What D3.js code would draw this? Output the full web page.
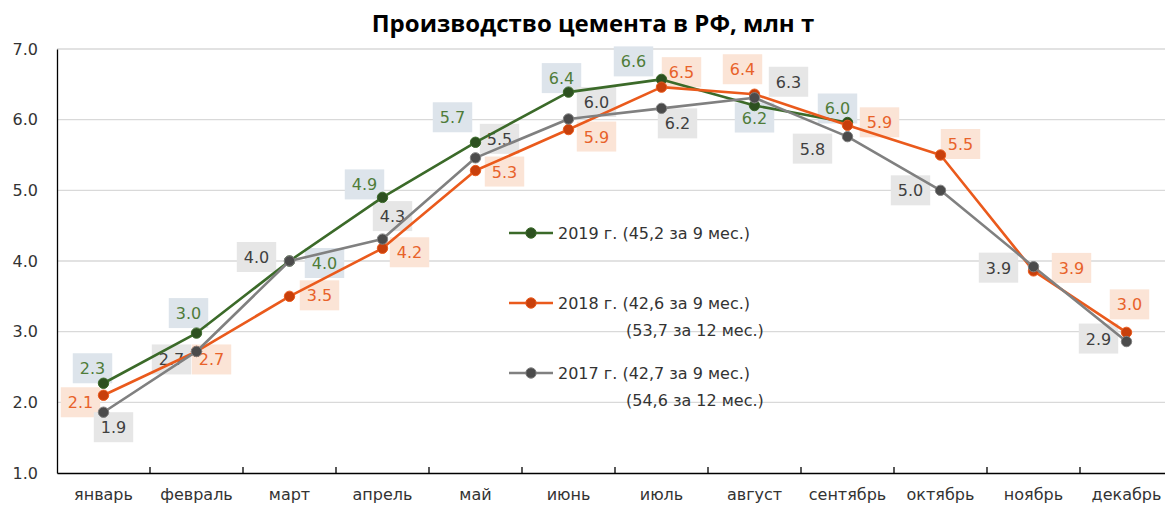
<!DOCTYPE html>
<html><head><meta charset="utf-8">
<script src="https://cdn.jsdelivr.net/npm/d3@7"></script>
<style>body{margin:0;background:#fff}svg{display:block}</style>
</head><body>
<svg id="c" width="1165" height="506"></svg>
<script>
const months = ["январь","февраль","март","апрель","май","июнь","июль","август","сентябрь","октябрь","ноябрь","декабрь"];
const v2019 = [2.27, 2.98, 4.0, 4.9, 5.68, 6.39, 6.57, 6.2, 5.96, null, null, null];
const v2018 = [2.1, 2.72, 3.5, 4.18, 5.28, 5.86, 6.46, 6.36, 5.92, 5.5, 3.86, 2.99];
const v2017 = [1.86, 2.72, 4.0, 4.31, 5.46, 6.01, 6.16, 6.31, 5.76, 5.0, 3.92, 2.86];
const yTicks = [1, 2, 3, 4, 5, 6, 7];
const title = "Производство цемента в РФ, млн т";
const legend2019 = ["2019 г. (45,2 за 9 мес.)"];
const legend2018 = ["2018 г. (42,6 за 9 мес.)", "(53,7 за 12 мес.)"];
const legend2017 = ["2017 г. (42,7 за 9 мес.)", "(54,6 за 12 мес.)"];

// label placement offsets (px) relative to each point
const off2019 = [[-11,-15],[-8,-20],[35,2],[-18,-13],[-23,-25],[-7,-14],[-28,-18],[0,12],[-10,-14]];
const off2018 = [[-23,7],[15,8],[30,-1],[27,4],[29,1],[28,7],[20,-15],[-12,-25],[32,-3],[20,-11],[38,-3],[3,-28]];
const off2017 = [[10,15],[-25,8],[-33,-4],[10,-23],[24,-19],[28,-17],[16,15],[34,-16],[-35,12],[-30,0],[-35,1],[-28,-3]];

const series = [
  {vals: v2019, off: off2019, legend: legend2019, ly: 233, line: "#3b6a29", dot: "#2d5120", txt: "#4f7c39", box: "#dde4eb"},
  {vals: v2018, off: off2018, legend: legend2018, ly: 303, line: "#ea5a1c", dot: "#c8400c", txt: "#e8622a", box: "#fbe4d6"},
  {vals: v2017, off: off2017, legend: legend2017, ly: 373, line: "#808080", dot: "#4b4b4b", txt: "#3f3f3f", box: "#e6e6e6"}
];

const svg = d3.select("#c");
const x = d3.scaleBand().domain(months).range([57, 1173]).padding(0);
const y = d3.scaleLinear().domain([1, 7]).range([473, 49]);
const fmt = d3.format(".1f");
const font = "'DejaVu Sans', Verdana, sans-serif";

// title
svg.append("text").attr("x", 593).attr("y", 32).attr("text-anchor", "middle")
  .attr("font-family", "'Open Sans', sans-serif").attr("font-weight", "bold").attr("font-size", 24)
  .attr("fill", "#000").text(title);

// gridlines
svg.append("g").selectAll("line").data(yTicks.slice(1)).join("line")
  .attr("x1", 57).attr("x2", 1165).attr("y1", d => y(d)).attr("y2", d => y(d))
  .attr("stroke", "#d9d9d9").attr("stroke-width", 1.3);

// y axis
const ya = svg.append("g").attr("transform", "translate(57,0)")
  .call(d3.axisLeft(y).tickValues(yTicks).tickFormat(fmt).tickSize(0).tickPadding(19));
ya.select(".domain").attr("stroke", "#000").attr("stroke-width", 1.3);
ya.selectAll("text").attr("font-family", font).attr("font-size", 16).attr("fill", "#333");

// x axis
const xa = svg.append("g").attr("transform", "translate(0,473)")
  .call(d3.axisBottom(x).tickSize(0).tickPadding(16));
xa.select(".domain").attr("stroke", "#000").attr("stroke-width", 1.3);
xa.selectAll("text").attr("font-family", font).attr("font-size", 16).attr("fill", "#333");
svg.append("g").selectAll("line").data(months.slice(1)).join("line")
  .attr("x1", d => x(d)).attr("x2", d => x(d)).attr("y1", 473).attr("y2", 467)
  .attr("stroke", "#000").attr("stroke-width", 1.3);

const cx = i => x(months[i]) + x.bandwidth() / 2;

// data labels (under the lines)
const lblG = svg.append("g");
series.forEach(s => {
  s.vals.forEach((v, i) => {
    if (v == null) return;
    const px = cx(i) + s.off[i][0], py = y(v) + s.off[i][1];
    const g = lblG.append("g");
    const t = g.append("text").attr("x", px).attr("y", py + 6).attr("text-anchor", "middle")
      .attr("font-family", font).attr("font-size", 16).attr("fill", s.txt).text(fmt(v));
    const w = t.node().getComputedTextLength() + 14;
    g.insert("rect", "text").attr("x", px - w / 2).attr("y", py - 15).attr("width", w).attr("height", 30)
      .attr("fill", s.box);
  });
});

// lines and markers
const line = d3.line().defined(d => d.v != null).x(d => cx(d.i)).y(d => y(d.v));
series.forEach(s => {
  const pts = s.vals.map((v, i) => ({v, i}));
  svg.append("path").datum(pts).attr("d", line).attr("fill", "none")
    .attr("stroke", s.line).attr("stroke-width", 2.6).attr("stroke-linejoin", "round");
  svg.append("g").selectAll("circle").data(pts.filter(d => d.v != null)).join("circle")
    .attr("cx", d => cx(d.i)).attr("cy", d => y(d.v)).attr("r", 5.2)
    .attr("fill", s.dot).attr("stroke", s.line).attr("stroke-width", 1);
});

// legend
series.forEach(s => {
  svg.append("line").attr("x1", 509).attr("x2", 553).attr("y1", s.ly).attr("y2", s.ly)
    .attr("stroke", s.line).attr("stroke-width", 2.6);
  svg.append("circle").attr("cx", 531).attr("cy", s.ly).attr("r", 5.2)
    .attr("fill", s.dot).attr("stroke", s.line).attr("stroke-width", 1);
  s.legend.forEach((txt, k) => {
    svg.append("text").attr("x", k === 0 ? 558 : 626).attr("y", s.ly + 6 + k * 27)
      .attr("font-family", font).attr("font-size", 16).attr("fill", "#333").text(txt);
  });
});
</script>
</body></html>
